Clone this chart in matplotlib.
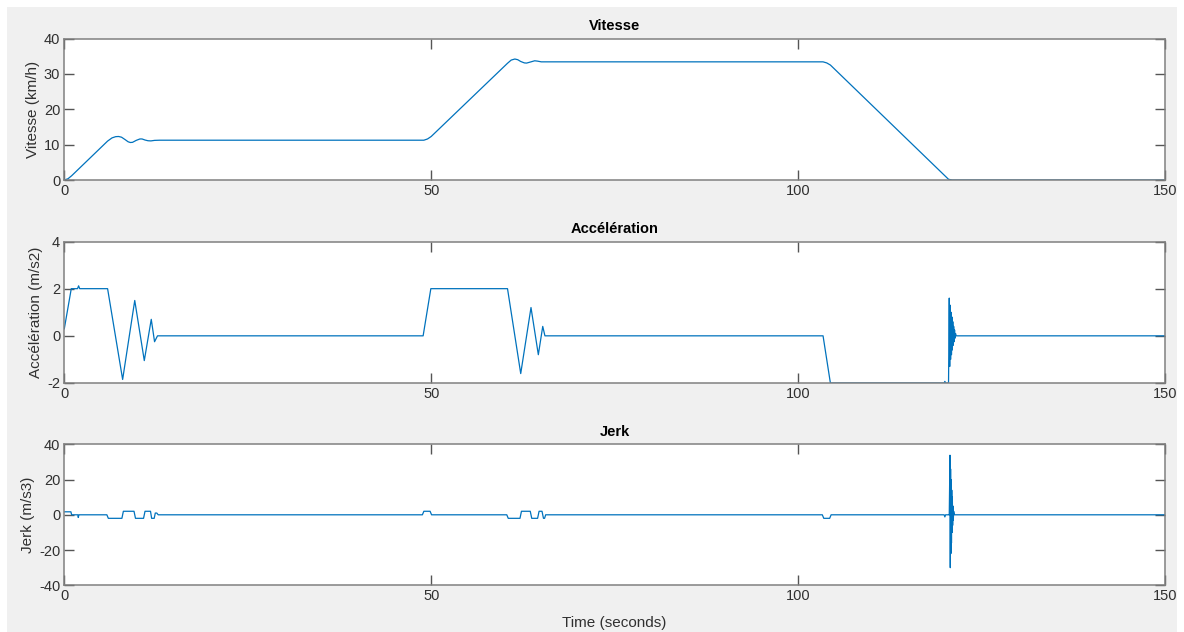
import matplotlib
matplotlib.use('Agg')
import matplotlib.pyplot as plt
from matplotlib.patches import Rectangle

plt.rcParams['font.family'] = ['Liberation Sans', 'DejaVu Sans']
plt.rcParams['axes.unicode_minus'] = False

# vitesse (points relevés)
t_v = [0, 0.5, 1.0, 5.9, 6.5, 7.0, 7.4, 7.8, 8.3, 8.7, 9.0, 9.3, 9.8, 10.3, 10.6,
       11.0, 11.4, 11.8, 12.3, 13.0, 49.0, 49.5, 50.0, 60.4, 60.9, 61.4, 61.8,
       62.2, 62.7, 63.0, 63.6, 64.1, 64.5, 65.0, 66.0, 103.4, 103.9, 104.4,
       120.5, 121.0, 150]
vitesse = [0, 0.35, 1.2, 11.0, 11.9, 12.25, 12.3, 12.1, 11.4, 10.8, 10.6, 10.65,
           11.2, 11.6, 11.6, 11.3, 11.1, 11.05, 11.2, 11.25, 11.25, 11.6, 12.3,
           33.0, 33.9, 34.2, 34.0, 33.5, 33.1, 33.05, 33.4, 33.7, 33.6, 33.4,
           33.4, 33.4, 33.1, 32.5, 0.2, 0, 0]

# accélération
t_a = [0, 0.95, 1.8, 1.95, 2.1, 5.9, 7.95, 9.6, 10.9, 11.85, 12.3, 12.7,
       48.9, 49.95, 60.4, 62.2, 63.6, 64.6, 65.2, 65.5, 103.4, 104.4,
       119.9, 120.0, 120.1, 120.5, 120.6, 120.66, 120.72, 120.78, 120.84,
       120.9, 120.96, 121.02, 121.08, 121.14, 121.2, 121.26, 121.32, 121.38,
       121.45, 121.55, 150]
accel = [0.3, 2.0, 2.0, 2.12, 2.0, 2.0, -1.85, 1.5, -1.05, 0.7, -0.25, 0,
         0, 2.0, 2.0, -1.6, 1.2, -0.8, 0.4, 0, 0, -2.0,
         -2.0, -1.93, -2.0, -2.0, 1.6, -1.3, 1.3, -1.0, 1.0,
         -0.8, 0.8, -0.6, 0.6, -0.4, 0.4, -0.25, 0.25, -0.1,
         0.1, 0, 0]

# jerk
t_j = [0, 0.9, 1.0, 1.85, 1.9, 2.0, 5.8, 6.0, 7.85, 8.05, 9.5, 9.7, 10.8, 11.0,
       11.75, 11.9, 12.25, 12.4, 12.6, 12.8, 48.8, 49.0, 49.85, 50.05,
       60.3, 60.5, 62.1, 62.3, 63.5, 63.7, 64.5, 64.7, 65.1, 65.3, 65.45, 65.6,
       103.3, 103.5, 104.3, 104.5, 119.9, 120.0, 120.1, 120.5, 120.6, 120.7,
       120.74, 120.78, 120.82, 120.86, 120.9, 120.94, 120.98, 121.02, 121.06,
       121.1, 121.15, 121.2, 121.3, 150]
jerk = [1.7, 1.7, 0, 0, -1.5, 0, 0, -2, -2, 2, 2, -2, -2, 2,
        2, -2, -2, 1, 1, 0, 0, 2, 2, 0,
        0, -2, -2, 2, 2, -2, -2, 2, 2, -2, -2, 0,
        0, -2, -2, 0, 0, -1.2, 0, 0, 0, 33.8,
        -30, 26, -22, 20, -16, 14, -10, 10, -6,
        5, -3, 2, 0, 0]

bleu = '#0072BD'
fig = plt.figure(figsize=(11.84, 6.32), dpi=100, facecolor='white')
fig.patches.append(Rectangle((7 / 1184, 0), 1170 / 1184, 625 / 632,
                             transform=fig.transFigure, facecolor='#f0f0f0',
                             edgecolor='none', zorder=-10))

L, W = 64.3 / 1184, (1165 - 64.3) / 1184
positions = [(38.5, 180), (241.5, 383), (444.3, 585.3)]
series = [(t_v, vitesse, 'Vitesse', 'Vitesse (km/h)', (0, 40), [0, 10, 20, 30, 40]),
          (t_a, accel, 'Accélération', 'Accélération (m/s2)', (-2, 4), [-2, 0, 2, 4]),
          (t_j, jerk, 'Jerk', 'Jerk (m/s3)', (-40, 40), [-40, -20, 0, 20, 40])]

for (top, bot), (tt, yy, titre, ylab, ylim, yt) in zip(positions, series):
    ax = fig.add_axes([L, 1 - bot / 632, W, (bot - top) / 632])
    ax.plot(tt, yy, color=bleu, lw=0.9)
    ax.set_xlim(0, 150)
    ax.set_ylim(*ylim)
    ax.set_xticks([0, 50, 100, 150])
    ax.set_yticks(yt)
    ax.tick_params(direction='in', length=7, width=1.0, color='#555555',
                   labelsize=10.5, labelcolor='#303030', top=True, right=True,
                   pad=3)
    for s in ax.spines.values():
        s.set_color('#808080')
        s.set_linewidth(1.1)
    ax.set_title(titre, fontsize=10.5, fontweight='bold', pad=6)
    ax.set_ylabel(ylab, fontsize=11, color='#303030', labelpad=3)

ax.set_xlabel('Time (seconds)', fontsize=11, color='#303030', labelpad=9)

fig.savefig('out.png', dpi=100, facecolor=fig.get_facecolor())
